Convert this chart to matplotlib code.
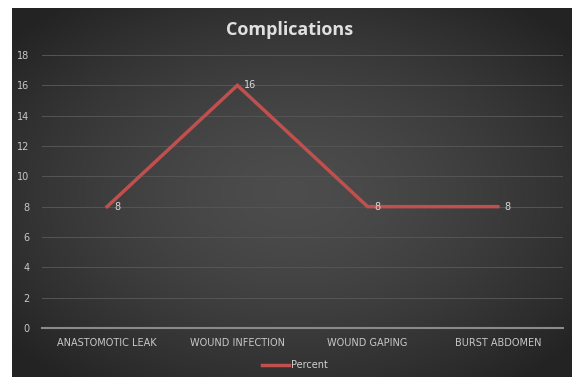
import numpy as np
import matplotlib.pyplot as plt

categories = ['ANASTOMOTIC LEAK', 'WOUND INFECTION', 'WOUND GAPING', 'BURST ABDOMEN']
percent = [8, 16, 8, 8]
yticks = [0, 2, 4, 6, 8, 10, 12, 14, 16, 18]

W, H = 572, 377
fig = plt.figure(figsize=(W / 100, H / 100), dpi=100)
fig.patch.set_facecolor('white')

# dark radial gradient background
bg = fig.add_axes([12 / W, 0, 1 - 12 / W, 1 - 8 / H])
gx, gy = np.meshgrid(np.linspace(-1, 1, 400), np.linspace(-1, 1, 260))
r = np.clip(np.sqrt(gx ** 2 + gy ** 2) / 1.3, 0, 1)
shade = 0.30 - 0.16 * r ** 1.5
bg.imshow(np.dstack([shade, shade, shade]), aspect='auto', extent=[0, 1, 0, 1])
bg.set_axis_off()

ax = fig.add_axes([42 / W, (H - 328) / H, (563 - 42) / W, (328 - 55) / H])
ax.patch.set_alpha(0)
x = np.arange(len(categories))
line, = ax.plot(x, percent, color='#c0504d', lw=2.5, solid_joinstyle='miter', label='Percent')
for xi, v in zip(x, percent):
    ax.annotate(str(v), (xi, v), xytext=(5, 0), textcoords='offset points',
                ha='left', va='center', color='#d9d9d9', fontsize=7)

ax.set_ylim(0, 18)
ax.set_xlim(-0.5, 3.5)
ax.set_yticks(yticks)
ax.set_xticks(x)
ax.set_xticklabels(categories)
ax.grid(axis='y', color='#555555', lw=0.7)
ax.set_axisbelow(True)
for s in ['top', 'right', 'left']:
    ax.spines[s].set_visible(False)
ax.spines['bottom'].set_color('#8a8a8a')
ax.spines['bottom'].set_linewidth(1.5)
ax.tick_params(length=0, colors='#c8c8c8', labelsize=7)
ax.tick_params(axis='y', pad=9)
ax.tick_params(axis='x', pad=7)

fig.text(0.507, 1 - 30 / H, 'Complications', ha='center', va='center',
         color='#e0e0e0', fontsize=13, fontweight='bold', family='Open Sans')

fig.legend(handles=[line], loc='center', bbox_to_anchor=(0.516, 1 - 365 / H),
           frameon=False, fontsize=7, labelcolor='#d0d0d0', handlelength=2.8,
           handletextpad=0.2)

fig.savefig('out.png', dpi=100, facecolor=fig.get_facecolor())
